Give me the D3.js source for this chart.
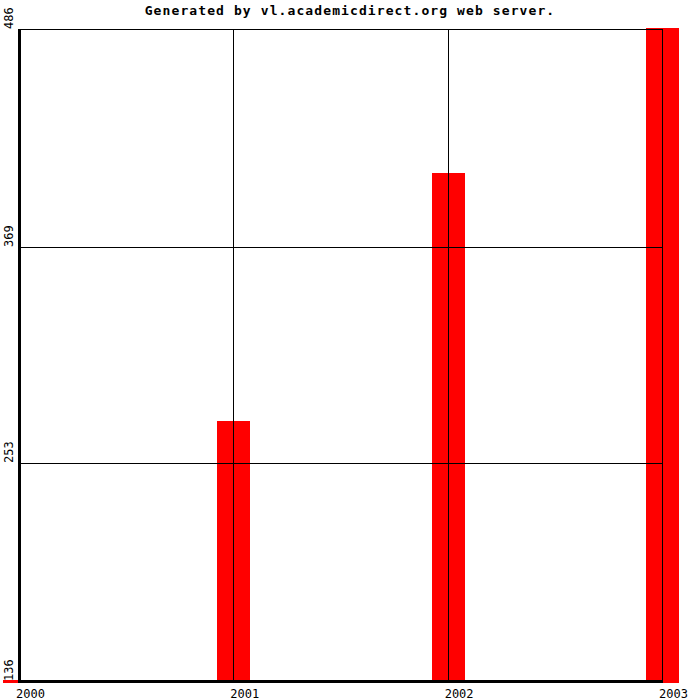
<!DOCTYPE html>
<html>
<head>
<meta charset="utf-8">
<script src="https://cdn.jsdelivr.net/npm/d3@7"></script>
<style>
  body { margin: 0; background: #fff; }
  text { font-family: "DejaVu Sans Mono", "Liberation Mono", monospace; }
</style>
</head>
<body>
<div id="chart"></div>
<script>
var years = [2000, 2001, 2002, 2003];
var values = [136, 275, 408, 486];
var yTicks = [136, 253, 369, 486];
var yTickLabels = ["136", "253", "369", "486"];
var titleText = "Generated by vl.academicdirect.org web server.";

const W = 700, H = 700;
const margin = {top: 29, right: 38, bottom: 19, left: 19},
      width = W - margin.left - margin.right,
      height = H - margin.top - margin.bottom;

var svg = d3.select("#chart")
  .append("svg")
  .attr("width", W)
  .attr("height", H);

svg.append("text")
  .attr("x", W / 2)
  .attr("y", 15)
  .attr("text-anchor", "middle")
  .style("font-size", "13px")
  .style("font-weight", "bold")
  .style("letter-spacing", "1.1px")
  .text(titleText);

var g = svg.append("g")
  .attr("transform", "translate(" + margin.left + "," + margin.top + ")");

var x = d3.scaleLinear()
  .domain(d3.extent(years))
  .range([0, width]);
var y = d3.scaleLinear()
  .domain([d3.min(yTicks), d3.max(yTicks)])
  .range([height, 0]);

var barW = 33;

// bars first, grid on top
g.selectAll(".bar")
  .data(years)
  .enter()
  .append("rect")
  .attr("class", "bar")
  .style("fill", "#ff0000")
  .attr("x", function(d) {return Math.round(x(d)) - 16;})
  .attr("y", function(d, i) {return Math.round(y(values[i])) - 1;})
  .attr("width", barW)
  .attr("height", function(d, i) {return height - Math.round(y(values[i])) + 3;});

// vertical grid
g.selectAll(".vgrid")
  .data(years.slice(1))
  .enter()
  .append("line")
  .attr("class", "vgrid")
  .attr("x1", function(d) {return Math.round(x(d)) + 0.5;})
  .attr("x2", function(d) {return Math.round(x(d)) + 0.5;})
  .attr("y1", 0)
  .attr("y2", height)
  .style("stroke", "#000")
  .style("stroke-width", 1);

// horizontal grid
g.selectAll(".hgrid")
  .data(yTicks.slice(1))
  .enter()
  .append("line")
  .attr("class", "hgrid")
  .attr("x1", 0)
  .attr("x2", Math.round(x(2003)) + 0.5)
  .attr("y1", function(d) {return Math.round(y(d)) + 0.5;})
  .attr("y2", function(d) {return Math.round(y(d)) + 0.5;})
  .style("stroke", "#000")
  .style("stroke-width", 1);

// axes
g.append("rect")
  .attr("x", -1)
  .attr("y", 0)
  .attr("width", 3)
  .attr("height", height + 2)
  .style("fill", "#000");
g.append("rect")
  .attr("x", -1)
  .attr("y", height - 1)
  .attr("width", Math.round(x(2003)) + 2)
  .attr("height", 3)
  .style("fill", "#000");

// y tick labels
g.selectAll(".ylab")
  .data(yTicks)
  .enter()
  .append("text")
  .attr("class", "ylab")
  .attr("transform", function(d) {return "translate(-6," + y(d) + ") rotate(-90)";})
  .attr("text-anchor", "start")
  .style("font-size", "12px")
  .text(function(d, i) {return yTickLabels[i];});

// x tick labels
g.selectAll(".xlab")
  .data(years)
  .enter()
  .append("text")
  .attr("class", "xlab")
  .attr("x", function(d) {return x(d) - 3;})
  .attr("y", height + 17)
  .attr("text-anchor", "start")
  .style("font-size", "12px")
  .text(function(d) {return d;});
</script>
</body>
</html>
